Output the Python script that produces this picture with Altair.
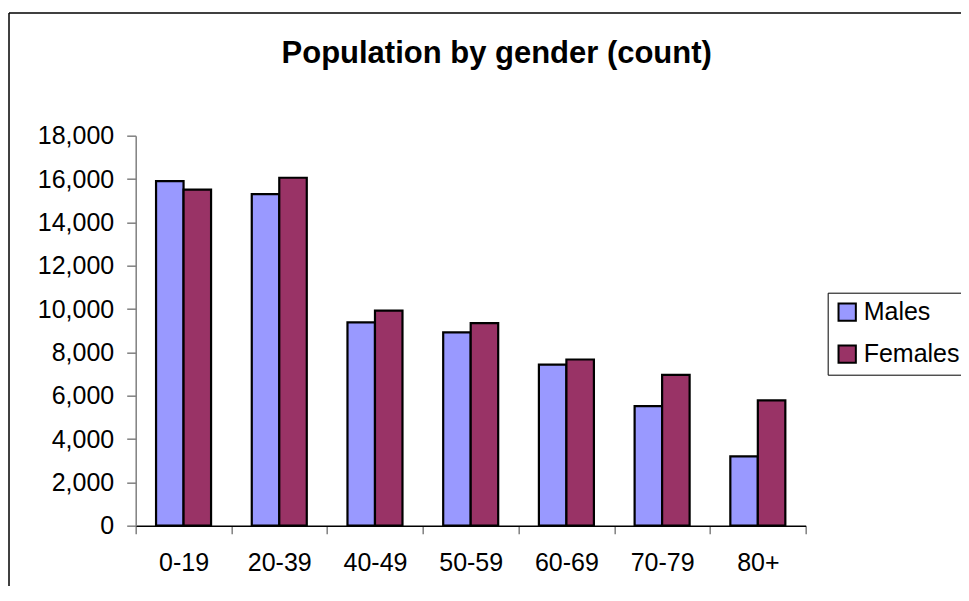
import altair as alt
import pandas as pd

categories = ["0-19", "20-39", "40-49", "50-59", "60-69", "70-79", "80+"]
males = [15900, 15300, 9380, 8920, 7430, 5520, 3200]
females = [15510, 16060, 9930, 9350, 7670, 6960, 5780]
genders = ["Males", "Females"]
colors = ["#9999FF", "#993366"]

rows = []
for c, m, f in zip(categories, males, females):
    rows.append({"age": c, "gender": "Males", "count": m})
    rows.append({"age": c, "gender": "Females", "count": f})
df = pd.DataFrame(rows)

FONT = "Liberation Sans"
W, H = 670, 390

bars = alt.Chart(df).mark_bar(stroke="black", strokeWidth=2.2).encode(
    x=alt.X("age:N", sort=categories,
            scale=alt.Scale(paddingInner=0, paddingOuter=0),
            axis=alt.Axis(title=None, labelAngle=0, tickBand="extent",
                          domainColor="black", domainWidth=1.5,
                          tickColor="#808080", tickSize=8, tickWidth=1.5,
                          labelFont=FONT, labelFontSize=25, labelColor="black",
                          labelBaseline="alphabetic", labelPadding=37)),
    xOffset=alt.XOffset("gender:N", sort=genders,
                        scale=alt.Scale(paddingInner=0, paddingOuter=0.74)),
    y=alt.Y("count:Q", scale=alt.Scale(domain=[0, 18000], nice=False),
            axis=alt.Axis(title=None, values=list(range(0, 18001, 2000)), format=",d",
                          grid=False, domainColor="#808080", domainWidth=1.5,
                          tickColor="#808080", tickSize=9, tickWidth=1.5,
                          labelFont=FONT, labelFontSize=25, labelColor="black",
                          labelPadding=13)),
    color=alt.Color("gender:N", sort=genders,
                    scale=alt.Scale(domain=genders, range=colors),
                    legend=alt.Legend(title=None, orient="none", legendX=692, legendY=157,
                                      strokeColor="black", padding=7,
                                      symbolType="square", symbolSize=300,
                                      symbolStrokeWidth=2, symbolStrokeColor="black",
                                      symbolOpacity=1,
                                      labelFont=FONT, labelFontSize=25, labelColor="black",
                                      labelOffset=4, rowPadding=15)),
)

one = pd.DataFrame({"a": [0]})
border_top = alt.Chart(one).mark_rule(color="black", strokeWidth=1.5).encode(
    x=alt.value(-126.7), x2=alt.value(W + 300), y=alt.value(-122.7))
border_left = alt.Chart(one).mark_rule(color="black", strokeWidth=1.5).encode(
    x=alt.value(-126.7), y=alt.value(-122.7), y2=alt.value(H + 300))

chart = alt.layer(bars, border_top, border_left).properties(
    width=W, height=H,
    title=alt.TitleParams("Population by gender (count)", font=FONT, fontSize=31,
                          fontWeight="bold", color="black", anchor="middle",
                          frame="group", dx=26, offset=-82, baseline="alphabetic"),
    autosize=alt.AutoSizeParams(type="none"),
    padding={"left": 127.7, "top": 127.7, "right": 155, "bottom": 60},
).configure_view(stroke=None)

chart.save("out.html", embed_options={"renderer": "svg", "actions": False})
